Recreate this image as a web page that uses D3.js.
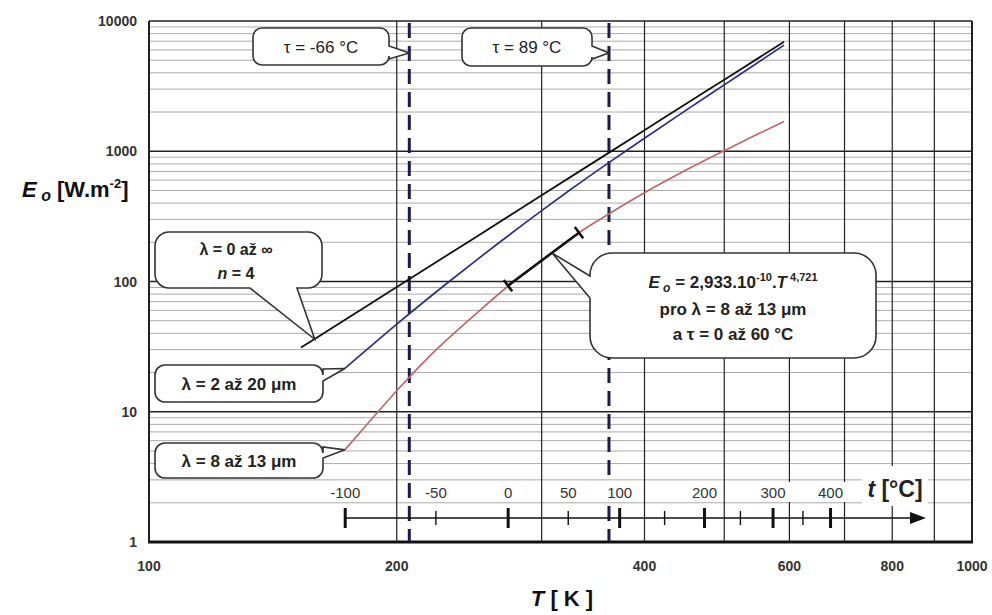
<!DOCTYPE html>
<html><head><meta charset="utf-8">
<script src="https://cdn.jsdelivr.net/npm/d3@7"></script>
<style>body{margin:0;background:#fff} svg{display:block} text{font-family:"Liberation Sans",Arial,sans-serif}</style>
</head><body><svg id="c" width="992" height="615"></svg>
<script>
// ---- data ----
const T_black = [153,175,200,250,300,350,400,450,500,550,591];
const E_black = [31.1,53.2,90.7,221,459,851,1452,2325,3544,5188,6917];
const T_blue  = [173,184.5,200,230,250,300,325,362,400,450,500,550,591];
const E_blue  = [21.5,30.5,47,96.5,146,350,506,818,1259,2077,3233,4825,6525];
const T_red   = [173,185,200,217.6,250,273,300,333,362,400,450,500,550,591];
const E_red   = [5.1,8.3,14.5,25.5,57,92,145,237,330,480,720,1010,1360,1690];
const fitT = [273,333];
const fitE = [93,237];
const xTicks = [100,200,400,600,800,1000];
const xGrid  = [200,300,400,500,600,700,800,900];
const yTicks = [1,10,100,1000,10000];
const cMajor = [-100,0,100,200,300,400];
const cMinor = [-50,50,150,250,350];
const cLabels = [-100,-50,0,50,100,200,300,400];
const dashedC = [-66,89];
const K0 = 273.15;

const svg = d3.select("#c");
const L=149, R=972, Tp=21, B=542;
const x = d3.scaleLog().domain([100,1000]).range([L,R]);
const y = d3.scaleLog().domain([1,10000]).range([B,Tp]);

// minor horizontal grid
const minorY=[];
for(let d=1; d<10000; d*=10) for(let k=2;k<=9;k++) minorY.push(d*k);
svg.append("g").selectAll("line").data(minorY).join("line")
  .attr("x1",L).attr("x2",R).attr("y1",d=>y(d)).attr("y2",d=>y(d))
  .attr("stroke","#ababab").attr("stroke-width",1);
// major horizontal
svg.append("g").selectAll("line").data([10,100,1000]).join("line")
  .attr("x1",L).attr("x2",R).attr("y1",d=>y(d)).attr("y2",d=>y(d))
  .attr("stroke","#222").attr("stroke-width",1.6);
// vertical grid
svg.append("g").selectAll("line").data(xGrid).join("line")
  .attr("x1",d=>x(d)).attr("x2",d=>x(d)).attr("y1",Tp).attr("y2",B)
  .attr("stroke","#222").attr("stroke-width",1.2);
// frame
svg.append("line").attr("x1",L).attr("x2",R).attr("y1",Tp).attr("y2",Tp).attr("stroke","#222").attr("stroke-width",1.6);
svg.append("line").attr("x1",L).attr("x2",L).attr("y1",Tp).attr("y2",B).attr("stroke","#222").attr("stroke-width",2);
svg.append("line").attr("x1",R).attr("x2",R).attr("y1",Tp).attr("y2",B).attr("stroke","#222").attr("stroke-width",2);
svg.append("line").attr("x1",L-1).attr("x2",R+1).attr("y1",B).attr("y2",B).attr("stroke","#111").attr("stroke-width",3);

// tick labels
svg.append("g").selectAll("text").data(yTicks).join("text")
  .attr("x",137).attr("y",d=>y(d)+5).attr("text-anchor","end")
  .attr("font-size",14).attr("font-weight","bold").attr("fill","#333").text(d=>d);
svg.append("g").selectAll("text").data(xTicks).join("text")
  .attr("x",d=>x(d)).attr("y",571).attr("text-anchor","middle")
  .attr("font-size",14).attr("font-weight","bold").attr("fill","#333").text(d=>d);

// dashed lines
svg.append("g").selectAll("line").data(dashedC).join("line")
  .attr("x1",d=>x(d+K0)).attr("x2",d=>x(d+K0)).attr("y1",Tp+2).attr("y2",B)
  .attr("stroke","#1c1c4a").attr("stroke-width",3).attr("stroke-dasharray","15,8");

// curves
const line = d3.line().x(d=>x(d[0])).y(d=>y(d[1])).curve(d3.curveMonotoneX);
function curve(Ts,Es,color,w){
  svg.append("path").attr("d",line(Ts.map((t,i)=>[t,Es[i]])))
    .attr("fill","none").attr("stroke",color).attr("stroke-width",w);
}
curve(T_red,E_red,"#c06868",1.7);
curve(T_blue,E_blue,"#2c3080",1.7);
curve(T_black,E_black,"#111",1.8);

// fitted segment with end ticks
{
  const p0=[x(fitT[0]),y(fitE[0])], p1=[x(fitT[1]),y(fitE[1])];
  const dx=p1[0]-p0[0], dy=p1[1]-p0[1], len=Math.hypot(dx,dy);
  const nx=-dy/len*7, ny=dx/len*7;
  svg.append("line").attr("x1",p0[0]).attr("y1",p0[1]).attr("x2",p1[0]).attr("y2",p1[1])
    .attr("stroke","#111").attr("stroke-width",2.6);
  [p0,p1].forEach(p=>svg.append("line").attr("x1",p[0]-nx).attr("y1",p[1]-ny)
    .attr("x2",p[0]+nx).attr("y2",p[1]+ny).attr("stroke","#111").attr("stroke-width",2.6));
}

// Celsius axis
const cy=518;
const cx = c=>x(c+K0);
const cg=svg.append("g");
cg.selectAll("rect").data(cLabels).join("rect")
  .attr("x",d=>cx(d)-18).attr("y",482).attr("width",36).attr("height",20).attr("fill","#fff");
cg.append("rect").attr("x",862).attr("y",466).attr("width",66).attr("height",40).attr("fill","#fff");
cg.append("line").attr("x1",cx(-100)).attr("x2",912).attr("y1",cy).attr("y2",cy).attr("stroke","#111").attr("stroke-width",1.6);
cg.append("path").attr("d",`M910,${cy-6}L926,${cy}L910,${cy+6}Z`).attr("fill","#111");
cg.selectAll(".mj").data(cMajor).join("line").attr("class","mj")
  .attr("x1",d=>cx(d)).attr("x2",d=>cx(d)).attr("y1",cy-10).attr("y2",cy+10)
  .attr("stroke","#111").attr("stroke-width",3);
cg.selectAll(".mn").data(cMinor).join("line").attr("class","mn")
  .attr("x1",d=>cx(d)).attr("x2",d=>cx(d)).attr("y1",cy-7).attr("y2",cy+7)
  .attr("stroke","#111").attr("stroke-width",1.4);
cg.selectAll("text").data(cLabels).join("text")
  .attr("x",d=>cx(d)).attr("y",498).attr("text-anchor","middle")
  .attr("font-size",15).attr("fill","#333").text(d=>d);
{
  const t=cg.append("text").attr("x",895).attr("y",497).attr("text-anchor","middle")
    .attr("font-size",23).attr("font-weight","bold").attr("fill","#222");
  t.append("tspan").attr("font-style","italic").text("t");
  t.append("tspan").text("  [°C]");
}

// callouts
function calloutPath(x0,y0,x1,y1,r,tail){
  const p=[];
  p.push(`M${x0+r},${y0}`, `H${x1-r}`, `A${r},${r} 0 0 1 ${x1},${y0+r}`);
  if(tail.side==="right") p.push(`V${tail.a}`,`L${tail.tip[0]},${tail.tip[1]}`,`L${x1},${tail.b}`);
  p.push(`V${y1-r}`, `A${r},${r} 0 0 1 ${x1-r},${y1}`);
  if(tail.side==="bottom") p.push(`H${tail.b}`,`L${tail.tip[0]},${tail.tip[1]}`,`L${tail.a},${y1}`);
  p.push(`H${x0+r}`, `A${r},${r} 0 0 1 ${x0},${y1-r}`);
  if(tail.side==="left") p.push(`V${tail.b}`,`L${tail.tip[0]},${tail.tip[1]}`,`L${x0},${tail.a}`);
  p.push(`V${y0+r}`, `A${r},${r} 0 0 1 ${x0+r},${y0}`, "Z");
  return p.join("");
}
function callout(x0,y0,x1,y1,r,tail){
  svg.append("path").attr("d",calloutPath(x0,y0,x1,y1,r,tail))
    .attr("fill","#fff").attr("stroke","#333").attr("stroke-width",1.6);
}
callout(253,28,389,65,9,{side:"right",a:46,b:59,tip:[x(dashedC[0]+K0),53]});
callout(462,28,592,66,9,{side:"right",a:46,b:59,tip:[x(dashedC[1]+K0),53]});
callout(155,232,322,288,14,{side:"bottom",a:250,b:297,tip:[x(159),y(36)]});
callout(155,365,323,402,10,{side:"right",a:369,b:381,tip:[x(T_blue[0]),y(E_blue[0])]});
callout(155,443,323,478,10,{side:"right",a:447,b:458,tip:[x(T_red[0]),y(E_red[0])]});
callout(590,253,876,358,22,{side:"left",a:276,b:298,tip:[x(309),y(165)]});

function txt(xp,yp,size,weight){
  return svg.append("text").attr("x",xp).attr("y",yp).attr("text-anchor","middle")
    .attr("font-size",size).attr("font-weight",weight).attr("fill","#222");
}
txt(321,53,17,"normal").text("τ = -66 °C");
txt(527,53,17,"normal").text("τ = 89 °C");
txt(236,255,16,"bold").text("λ  = 0  až  ∞");
{ const t=txt(236,279,16,"bold"); t.append("tspan").attr("font-style","italic").text("n"); t.append("tspan").text(" = 4"); }
txt(239,390,17,"bold").text("λ = 2 až 20 μm");
txt(239,467,17,"bold").text("λ = 8 až 13 μm");
{
  const t=txt(733,288,17,"bold");
  t.append("tspan").attr("font-style","italic").text("E");
  t.append("tspan").attr("font-style","italic").attr("font-size",12).attr("dy",4).text(" o");
  t.append("tspan").attr("dy",-4).text(" = 2,933.10");
  t.append("tspan").attr("font-size",11).attr("dy",-7).text("-10");
  t.append("tspan").attr("dy",7).text(".");
  t.append("tspan").attr("font-style","italic").text("T");
  t.append("tspan").attr("font-size",11).attr("dy",-7).text(" 4,721");
}
txt(733,315,17,"bold").text("pro λ = 8 až 13 μm");
{ const t=txt(733,340,17,"bold"); t.append("tspan").text("a  τ = 0 až 60 °C"); }

// axis titles
{
  const t=svg.append("text").attr("x",22).attr("y",197).attr("font-size",22).attr("font-weight","bold").attr("fill","#111");
  t.append("tspan").attr("font-style","italic").text("E");
  t.append("tspan").attr("font-style","italic").attr("font-size",16).attr("dy",4).text(" o");
  t.append("tspan").attr("dy",-4).text(" [W.m");
  t.append("tspan").attr("font-size",13).attr("dy",-9).text("-2");
  t.append("tspan").attr("dy",9).text("]");
}
{
  const t=svg.append("text").attr("x",562).attr("y",606).attr("text-anchor","middle").attr("font-size",22).attr("font-weight","bold").attr("fill","#111");
  t.append("tspan").attr("font-style","italic").text("T");
  t.append("tspan").text(" [ K ]");
}
</script></body></html>
